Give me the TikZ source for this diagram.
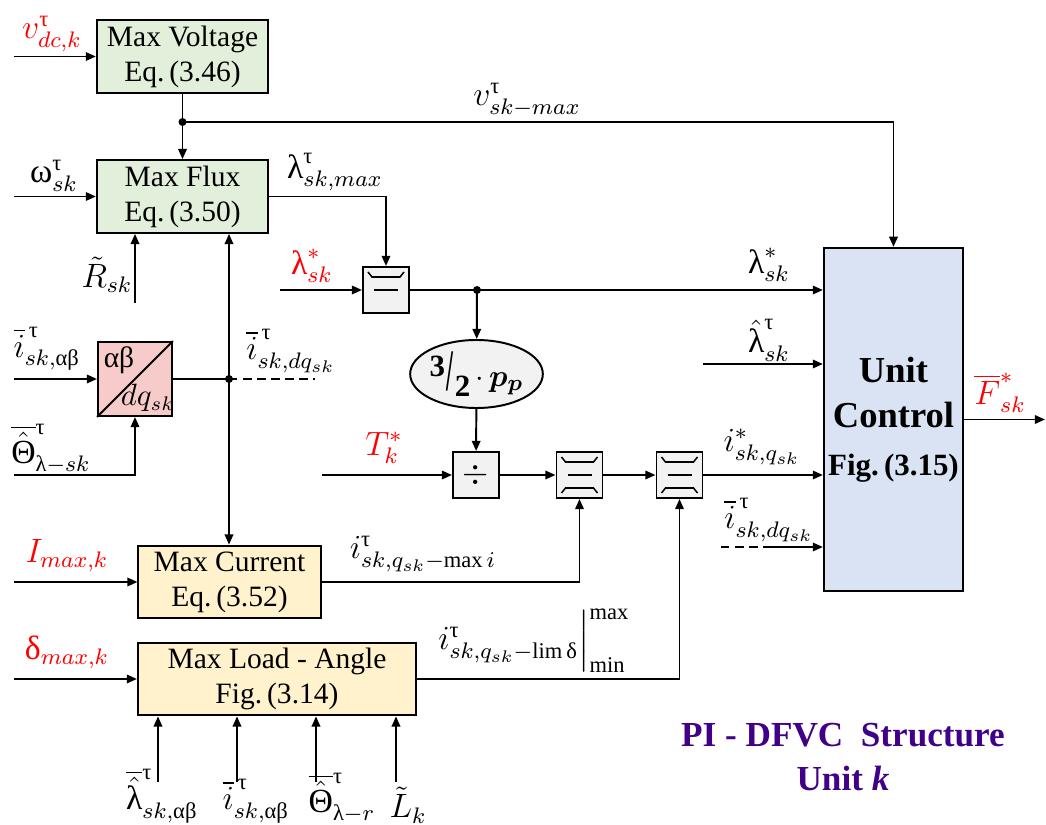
\documentclass[tikz,border=0pt]{standalone}
\usepackage{amsmath}
\usepackage{graphicx}
\usepackage{fontspec}
\setmainfont{Liberation Serif}
\usetikzlibrary{positioning,arrows.meta,shapes.geometric,calc}
\definecolor{boxgreen}{HTML}{E2EFDA}
\definecolor{boxred}{HTML}{F8CBCB}
\definecolor{boxyellow}{HTML}{FFF2CC}
\definecolor{boxblue}{HTML}{DAE3F3}
\definecolor{boxgray}{HTML}{F2F2F2}
\definecolor{titlepurple}{HTML}{400088}
% upright greek as in the source figure
\newcommand{\tlam}{\textup{λ}}
\newcommand{\tom}{\textup{ω}}
\newcommand{\ttau}{\textup{τ}}
\newcommand{\tal}{\textup{αβ}}
\newcommand{\tTh}{\textup{Θ}}
\newcommand{\tdel}{\textup{δ}}
\newcommand{\limtop}{\draw[line width=0.55pt] ([shift={(-18,-18)}]path picture bounding box.center) -- ++(4,5) -- ++(28,0) -- ++(4,-5);}
\newcommand{\limbot}{\draw[line width=0.55pt] ([shift={(-18,18)}]path picture bounding box.center) -- ++(4,-5) -- ++(28,0) -- ++(4,5);}
\newcommand{\limmid}{\draw[line width=0.55pt] ([shift={(-12,0)}]path picture bounding box.center) -- ++(24,0);}
\begin{document}
\begin{tikzpicture}[x=0.0125cm,y=-0.0125cm,
  line width=0.7pt,
  blk/.style={draw,line width=0.7pt,align=center,inner sep=1pt,
              font=\fontsize{10.5}{12.4}\selectfont},
  grn/.style={blk,fill=boxgreen,minimum width=2.14cm,minimum height=0.91cm},
  yel/.style={blk,fill=boxyellow,minimum height=0.91cm},
  sq/.style={blk,fill=boxgray,minimum size=0.575cm},
  lim/.style={sq,path picture={\limtop\limmid}},
  dlim/.style={sq,path picture={\limtop\limmid\limbot}},
  gainell/.style={blk,ellipse,fill=boxgray,minimum width=1.16cm,
                  minimum height=0.85cm,inner sep=0pt},
  ucbox/.style={blk,fill=boxblue,minimum width=1.74cm,minimum height=4.29cm,
                font=\bfseries\fontsize{13}{16}\selectfont},
  arr/.style={-{Triangle[length=3.6pt,width=3pt]}},
  lbl/.style={font=\fontsize{12}{14}\selectfont,inner sep=0pt},
  lblr/.style={lbl,text=red},
]
\useasboundingbox (0,0) rectangle (1046,825);

% Blocks
\node[grn] (mv) at (182.5,56.5) {Max Voltage\\Eq.\,(3.46)};
\node[grn] (mf) at (182.5,196.5) {Max Flux\\Eq.\,(3.50)};
\node[blk,fill=boxred,minimum size=0.925cm] (tr) at (135,379) {};
\node[lim] (l1) at (386,290) {};
\node[gainell] (gain) at (476.5,374)
  {\fontsize{11}{13}\selectfont\bfseries\raisebox{3.5pt}{3}\kern0.5pt\raisebox{-1.5pt}{\scalebox{0.8}[1.9]{/}}\kern0.5pt\raisebox{-3.5pt}{2}$\,\cdot\,\boldsymbol{p_{p}}$};
\node[sq] (dv) at (476,475) {\large$\div$};
\node[dlim] (l2) at (579.5,475) {};
\node[dlim] (l3) at (679.5,475) {};
\node[ucbox] (uc) at (893.5,419.5)
  {Unit\\Control\\[1pt]{\fontsize{11}{13}\selectfont Fig.\,(3.15)}};
\node[yel,minimum width=2.275cm] (mc) at (229.5,582) {Max Current\\Eq.\,(3.52)};
\node[yel,minimum width=3.475cm] (ml) at (277,679) {Max Load - Angle\\Fig.\,(3.14)};

% Transform block inside
\draw (tr.south west) -- (tr.north east);
\node[inner sep=0pt,font=\fontsize{10.5}{12}\selectfont] (trab) at (119,360) {αβ};
\node[inner sep=0pt,font=\fontsize{10.5}{12}\selectfont] (trdq) at (148,398) {$dq_{sk}$};

% Points
\coordinate (j1) at (182.5,122);
\coordinate (j2) at (229,379);
\coordinate (j3) at (477,290);
\coordinate (vdc) at (14,56.5);
\coordinate (win) at (14,196.5);
\coordinate (rin) at (135,303);
\coordinate (iab) at (14,379);
\coordinate (thin) at (14,475);
\coordinate (idq) at (315,379);
\coordinate (lamin) at (280,290);
\coordinate (tin) at (322,475);
\coordinate (lhin) at (703,364);
\coordinate (idqa) at (721,547);
\coordinate (idqb) at (767,547);
\coordinate (fout) at (1045,419.5);
\coordinate (imin) at (14,582);
\coordinate (dmin) at (14,679);

% Connectors
\draw[arr] (vdc) -- (mv);
\draw (mv) -- (j1);
\draw[arr] (j1) -- (mf);
\draw[arr] (j1) -| (uc.north);
\draw[arr] (win) -- (mf);
\draw[arr] (mf.east) -| (l1.north);
\draw[arr] (rin) -- (rin |- mf.south);
\draw[arr] (j2) -- (j2 |- mf.south);
\draw[arr] (j2) -- (j2 |- mc.north);
\draw[arr] (iab) -- (tr);
\draw[arr] (thin) -| (tr.south);
\draw (tr) -- (j2);
\draw[dashed,dash pattern=on 3pt off 2pt] (j2) -- (idq);
\draw[arr] (lamin) -- (l1);
\draw (l1) -- (j3);
\draw[arr] (j3) -- (j3 -| uc.west);
\draw[arr] (j3) -- (gain);
\draw[arr] (gain) -- (dv);
\draw[arr] (tin) -- (dv);
\draw[arr] (dv) -- (l2);
\draw[arr] (l2) -- (l3);
\draw[arr] (l3) -- (l3 -| uc.west);
\draw[arr] (lhin) -- (lhin -| uc.west);
\draw[dashed,dash pattern=on 3pt off 2pt] (idqa) -- (idqb);
\draw[arr] (idqb) -- (idqb -| uc.west);
\draw[arr] (uc) -- (fout);
\draw[arr] (imin) -- (mc);
\draw[arr] (mc.east) -| (l2.south);
\draw[arr] (dmin) -- (ml);
\draw[arr] (ml.east) -| (l3.south);
\foreach \x/\n in {158/a,237/b,316/c,396/d}{
  \coordinate (b\n) at (\x,782);
  \draw[arr] (b\n) -- (b\n |- ml.south);
}
\foreach \p in {j1,j2,j3} \fill (\p) circle[radius=0.05cm];

% Signal labels
\node[lblr] (tvdc) at (52,34) {$v^{\ttau}_{dc,k}$};
\node[lbl] (tvmax) at (527,100) {$v^{\ttau}_{sk-max}$};
\node[lbl] (tw) at (54,176) {$\tom^{\ttau}_{sk}$};
\node[lbl] (tlmax) at (335,172) {$\tlam^{\ttau}_{sk,max}$};
\node[lbl] (tr2) at (107,275) {$\tilde{R}_{sk}$};
\node[lblr] (tlref) at (312,266) {$\tlam^{*}_{sk}$};
\node[lbl] (tlref2) at (769,265) {$\tlam^{*}_{sk}$};
\node[lbl] (tlhat) at (769,340) {$\hat{\tlam}^{\ttau}_{sk}$};
\node[lbl] (tiab) at (47,349) {$\overline{i}^{\,\ttau}_{sk,\tal}$};
\node[lbl] (tidq) at (291,351) {$\overline{i}^{\,\ttau}_{sk,dq_{sk}}$};
\node[lbl] (tth) at (51,449) {$\overline{\hat{\tTh}}^{\ttau}_{\tlam-sk}$};
\node[lblr] (tt) at (384,448) {$T^{*}_{k}$};
\node[lbl] (tiq) at (762,447) {$i^{*}_{sk,q_{sk}}$};
\node[lbl] (tidq2) at (769,520) {$\overline{i}^{\,\ttau}_{sk,dq_{sk}}$};
\node[lblr] (tf) at (1000,393) {$\overline{F}^{*}_{sk}$};
\node[lblr] (timax) at (67,556) {$I_{max,k}$};
\node[lbl] (timx) at (423,554) {$i^{\ttau}_{sk,q_{sk}-\max i}$};
\node[lblr] (tdmax) at (67,652) {$\tdel_{max,k}$};
\node[lbl] (tilim) at (534,641) {$i^{\ttau}_{sk,q_{sk}-\lim\tdel}\Big|^{\max}_{\min}$};
\node[lbl,anchor=south] (tba) at (162,824) {$\overline{\hat{\tlam}}^{\ttau}_{sk,\tal}$};
\node[lbl,anchor=south] (tbb) at (256,824) {$\overline{i}^{\,\ttau}_{sk,\tal}$};
\node[lbl,anchor=south] (tbc) at (342,824) {$\overline{\hat{\tTh}}^{\ttau}_{\tlam-r}$};
\node[lbl,anchor=south] (tbd) at (408,824) {$\tilde{L}_{k}$};

% Title
\node[align=center,text=titlepurple,font=\bfseries\fontsize{12.5}{15.5}\selectfont] (title) at (843,757)
  {PI - DFVC\ \ Structure\\Unit \textit{k}};
\end{tikzpicture}
\end{document}
